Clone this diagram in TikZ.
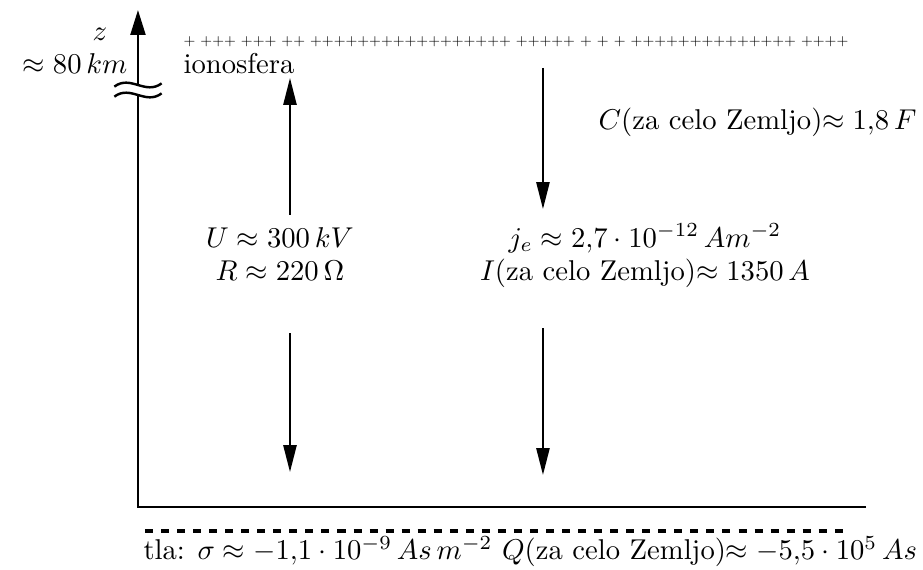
\documentclass[tikz,border=0pt]{standalone}
\usepackage{tikz}
\usetikzlibrary{arrows.meta}

\begin{document}
\begin{tikzpicture}[
  ax/.style={line width=0.85pt},
  flow/.style={-{Triangle[length=9.4pt,width=4.6pt]}, line width=0.7pt},
  lbl/.style={inner sep=0pt}]
  \useasboundingbox (-1.693,-0.761) rectangle (9.632,6.221);
  % axes, z axis broken near the top
  \coordinate (o) at (0,0);
  \coordinate (xend) at (8.933,0);
  \coordinate (brlo) at (0,5.055);
  \coordinate (brhi) at (0,5.178);
  \coordinate (ztip) at (0,6.098);
  \draw[ax] (xend) -- (o) -- (brlo);
  \draw[ax, -{Triangle[length=8.7pt,width=5.2pt]}] (brhi) -- (ztip);
  \foreach \y in {5.055,5.178}
    \draw[ax] (-0.29,\y-0.02) .. controls (-0.09,\y+0.13) and (0.09,\y-0.13) .. (0.29,\y+0.02);
  \node[lbl] (z) at (-0.466,5.80) {$z$};
  \node[lbl, anchor=base east] (h) at (-0.123,5.313) {$\approx 80\,km$};
  \node[lbl, anchor=base west] (ion) at (0.552,5.313) {ionosfera};
  % charges
  \node[lbl] (plus) at (4.638,5.706)
    {\scalebox{0.53}{+ +++ +++ ++ +++++++++++++++++ +++++ + + + ++++++++++++++ ++++}};
  \coordinate (mL) at (0.086,-0.294);
  \coordinate (mR) at (8.712,-0.294);
  \draw[dash pattern=on 2.8pt off 2.8pt, line width=1.2pt] (mL) -- (mR);
  % labels
  \node[lbl, anchor=base] (U) at (1.742,3.190) {$U\approx 300\,kV$};
  \node[lbl, anchor=base] (R) at (1.742,2.785) {$R\approx 220\,\Omega$};
  \node[lbl, anchor=base] (j) at (6.221,3.190) {$j_e\approx 2{,}7\cdot 10^{-12}\,Am^{-2}$};
  \node[lbl, anchor=base] (I) at (6.221,2.785) {$I$(za celo Zemljo)$\approx 1350\,A$};
  \node[lbl, anchor=base east] (C) at (9.558,4.626) {$C$(za celo Zemljo)$\approx 1{,}8\,F$};
  \node[lbl, anchor=base west] (tla) at (0.061,-0.650)
    {tla: $\sigma\approx -1{,}1\cdot 10^{-9}\,As\,m^{-2}$ $Q$(za celo Zemljo)$\approx -5{,}5\cdot 10^{5}\,As$};
  % field arrows
  \coordinate (lu0) at (1.865,3.583);
  \coordinate (lu1) at (1.865,5.264);
  \coordinate (ld0) at (1.865,2.135);
  \coordinate (ld1) at (1.865,0.429);
  \coordinate (ru0) at (4.969,5.387);
  \coordinate (ru1) at (4.969,3.656);
  \coordinate (rd0) at (4.969,2.196);
  \coordinate (rd1) at (4.969,0.393);
  \draw[flow] (lu0) -- (lu1);
  \draw[flow] (ld0) -- (ld1);
  \draw[flow] (ru0) -- (ru1);
  \draw[flow] (rd0) -- (rd1);
\end{tikzpicture}
\end{document}
